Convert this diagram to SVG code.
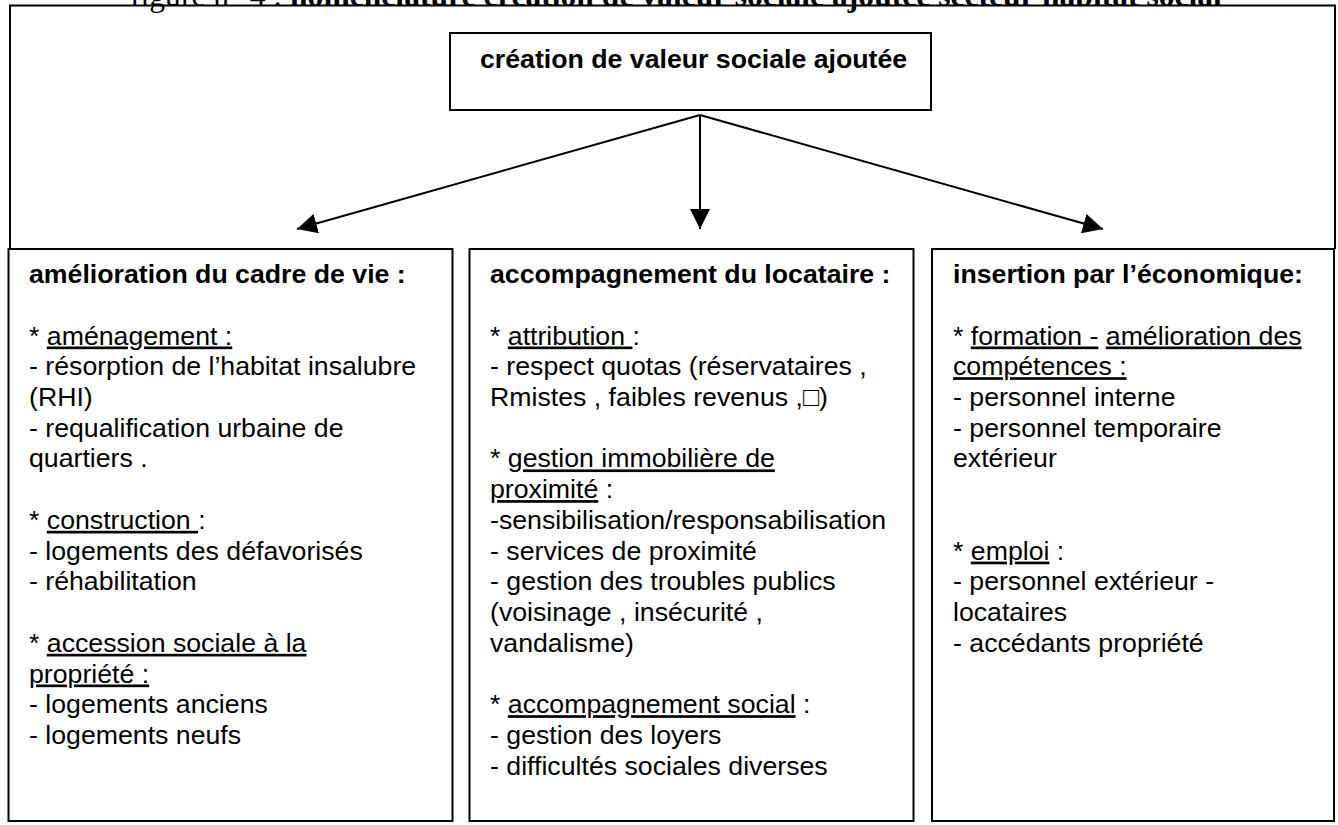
<svg xmlns="http://www.w3.org/2000/svg" width="1338" height="825" viewBox="0 0 1338 825">
<defs>
<style>
.box{fill:#fff;stroke:#000;stroke-width:2}
.frame{fill:none;stroke:#000;stroke-width:2}
.con{fill:none;stroke:#000;stroke-width:2}
.h{font-family:"Liberation Sans",Arial,sans-serif;font-size:26.7px;font-weight:bold;fill:#000}
.t{font-family:"Liberation Sans",Arial,sans-serif;font-size:26.7px;fill:#000}
.u{text-decoration:underline}
.title{font-family:"Liberation Serif","Times New Roman",serif;font-size:31.6px;fill:#000}
</style>
<marker id="arr" markerUnits="userSpaceOnUse" markerWidth="20" markerHeight="20" viewBox="0 0 20 20" refX="20" refY="10" orient="auto">
<path d="M0,0 L20,10 L0,20 z" fill="#000"/>
</marker>
</defs>
<rect width="1338" height="825" fill="#fff"/>

<g id="title">
<text class="title" x="130" y="6">figure n° 4 : <tspan font-weight="bold">nomenclature création de valeur sociale ajoutée secteur habitat social</tspan></text>
</g>

<g id="frame">
<path class="frame" d="M10,249 V5.5 H1335 V249"/>
</g>

<g id="node-top">
<rect class="box" x="450" y="33" width="481" height="77"/>
<text class="h" x="480" y="68.3">création de valeur sociale ajoutée</text>
</g>

<g id="connectors">
<line class="con" x1="700" y1="115" x2="297" y2="229" marker-end="url(#arr)"/>
<line class="con" x1="700" y1="115" x2="700" y2="229" marker-end="url(#arr)"/>
<line class="con" x1="700" y1="115" x2="1103" y2="229" marker-end="url(#arr)"/>
</g>

<g id="node-left">
<rect class="box" x="8.5" y="249" width="444" height="572"/>
<text class="h" x="29" y="283">amélioration du cadre de vie :</text>
<text class="t" x="29" y="344.5">* <tspan class="u">aménagement :</tspan></text>
<text class="t" x="29" y="375.2">- résorption de l’habitat insalubre</text>
<text class="t" x="29" y="405.9">(RHI)</text>
<text class="t" x="29" y="436.7">- requalification urbaine de</text>
<text class="t" x="29" y="467.4">quartiers .</text>
<text class="t" x="29" y="528.8">* <tspan class="u">construction </tspan>:</text>
<text class="t" x="29" y="559.6">- logements des défavorisés</text>
<text class="t" x="29" y="590.3">- réhabilitation</text>
<text class="t" x="29" y="651.8">* <tspan class="u">accession sociale à la</tspan></text>
<text class="t" x="29" y="682.5"><tspan class="u">propriété :</tspan></text>
<text class="t" x="29" y="713.2">- logements anciens</text>
<text class="t" x="29" y="743.9">- logements neufs</text>
</g>

<g id="node-middle">
<rect class="box" x="469.5" y="249" width="444" height="572"/>
<text class="h" x="490" y="283">accompagnement du locataire :</text>
<text class="t" x="490" y="344.5">* <tspan class="u">attribution </tspan>:</text>
<text class="t" x="490" y="375.2">- respect quotas (réservataires ,</text>
<text class="t" x="490" y="405.9">Rmistes , faibles revenus ,□)</text>
<text class="t" x="490" y="467.4">* <tspan class="u">gestion immobilière de</tspan></text>
<text class="t" x="490" y="498.1"><tspan class="u">proximité</tspan> :</text>
<text class="t" x="490" y="528.8">-sensibilisation/responsabilisation</text>
<text class="t" x="490" y="559.6">- services de proximité</text>
<text class="t" x="490" y="590.3">- gestion des troubles publics</text>
<text class="t" x="490" y="621">(voisinage , insécurité ,</text>
<text class="t" x="490" y="651.8">vandalisme)</text>
<text class="t" x="490" y="713.2">* <tspan class="u">accompagnement social</tspan> :</text>
<text class="t" x="490" y="743.9">- gestion des loyers</text>
<text class="t" x="490" y="774.7">- difficultés sociales diverses</text>
</g>

<g id="node-right">
<rect class="box" x="932" y="249" width="402" height="572"/>
<text class="h" x="953" y="283">insertion par l’économique:</text>
<text class="t" x="953" y="344.5">* <tspan class="u">formation -</tspan> <tspan class="u">amélioration des</tspan></text>
<text class="t" x="953" y="375.2"><tspan class="u">compétences :</tspan></text>
<text class="t" x="953" y="405.9">- personnel interne</text>
<text class="t" x="953" y="436.7">- personnel temporaire</text>
<text class="t" x="953" y="467.4">extérieur</text>
<text class="t" x="953" y="559.6">* <tspan class="u">emploi</tspan> :</text>
<text class="t" x="953" y="590.3">- personnel extérieur -</text>
<text class="t" x="953" y="621">locataires</text>
<text class="t" x="953" y="651.8">- accédants propriété</text>
</g>
</svg>
